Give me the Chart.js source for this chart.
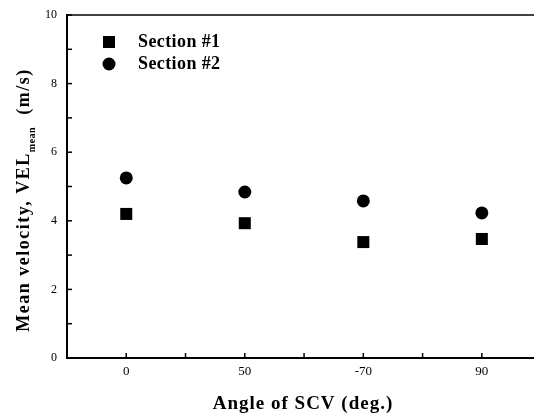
<!DOCTYPE html>
<html>
<head>
    <meta charset="utf-8" />
    <title>Mean velocity vs angle of SCV</title>
    <style>
        html, body {
            margin: 0;
            padding: 0;
            background: #fff;
        }

        #chartBox {
            width: 534px;
            height: 414px;
        }
    </style>
</head>
<body>
    <div id="chartBox">
        <canvas id="velChart" width="534" height="414"></canvas>
    </div>

    <script src="https://cdn.jsdelivr.net/npm/chart.js"></script>
    <script>
        // values
        const angles = ['0', '50', '-70', '90'];
        const section1 = [4.2, 3.93, 3.38, 3.47];
        const section2 = [5.25, 4.84, 4.58, 4.23];
        const yLabels = [0, 2, 4, 6, 8, 10];

        const serif = '"Liberation Serif", "DejaVu Serif", serif';

        function toPoints(arr) {
            return arr.map((v, i) => ({ x: i, y: v }));
        }

        // inward tick marks, top border, legend and axis titles (y one has a subscript)
        const decoration = {
            id: 'decoration',
            afterDraw(chart) {
                const ctx = chart.ctx;
                const area = chart.chartArea;
                const xs = chart.scales.x;
                const ys = chart.scales.y;
                ctx.save();
                ctx.strokeStyle = '#000';
                ctx.lineWidth = 1.5;

                ctx.beginPath();
                ctx.moveTo(area.left, area.top);
                ctx.lineTo(area.right, area.top);
                ctx.stroke();

                xs.ticks.forEach(t => {
                    const px = xs.getPixelForValue(t.value);
                    ctx.beginPath();
                    ctx.moveTo(px, area.bottom);
                    ctx.lineTo(px, area.bottom - 5);
                    ctx.stroke();
                });
                ys.ticks.forEach(t => {
                    const py = ys.getPixelForValue(t.value);
                    ctx.beginPath();
                    ctx.moveTo(area.left, py);
                    ctx.lineTo(area.left + 5, py);
                    ctx.stroke();
                });

                // legend
                ctx.fillStyle = '#000';
                ctx.textBaseline = 'middle';
                ctx.textAlign = 'left';
                ctx.font = 'bold 18px ' + serif;
                ctx.letterSpacing = '0.4px';
                ctx.fillRect(103, 36, 12, 12);
                ctx.fillText(chart.data.datasets[0].label, 138, 42);
                ctx.beginPath();
                ctx.arc(109, 64, 6.5, 0, Math.PI * 2);
                ctx.fill();
                ctx.fillText(chart.data.datasets[1].label, 138, 64);

                // x axis title
                ctx.font = 'bold 19px ' + serif;
                ctx.letterSpacing = '1px';
                ctx.textAlign = 'center';
                ctx.fillText('Angle of SCV (deg.)', 303, 404);

                // y axis title
                const main = 'Mean velocity, VEL';
                const sub = 'mean';
                const tail = '  (m/s)';
                ctx.textAlign = 'left';
                ctx.translate(24, 200);
                ctx.rotate(-Math.PI / 2);
                ctx.font = 'bold 18px ' + serif;
                ctx.letterSpacing = '1.5px';
                const w1 = ctx.measureText(main).width;
                const w3 = ctx.measureText(tail).width;
                ctx.font = 'bold 10px ' + serif;
                ctx.letterSpacing = '0.5px';
                const w2 = ctx.measureText(sub).width;
                const x0 = -(w1 + w2 + w3) / 2;
                ctx.font = 'bold 18px ' + serif;
                ctx.letterSpacing = '1.5px';
                ctx.fillText(main, x0, 0);
                ctx.fillText(tail, x0 + w1 + w2, 0);
                ctx.font = 'bold 10px ' + serif;
                ctx.letterSpacing = '0.5px';
                ctx.fillText(sub, x0 + w1, 8);
                ctx.restore();
            }
        };

        const ctx = document.getElementById('velChart').getContext('2d');
        const chart = new Chart(ctx, {
            type: 'scatter',
            data: {
                datasets: [{
                    label: 'Section #1',
                    data: toPoints(section1),
                    pointStyle: 'rect',
                    pointRadius: 8.5,
                    backgroundColor: '#000',
                    borderColor: '#000',
                    borderWidth: 0
                }, {
                    label: 'Section #2',
                    data: toPoints(section2),
                    pointStyle: 'circle',
                    pointRadius: 6.5,
                    backgroundColor: '#000',
                    borderColor: '#000',
                    borderWidth: 0
                }]
            },
            options: {
                responsive: false,
                animation: false,
                layout: {
                    autoPadding: false,
                    padding: { top: 15, right: 0, left: 0, bottom: 0 }
                },
                plugins: {
                    legend: { display: false },
                    tooltip: { enabled: false }
                },
                scales: {
                    x: {
                        type: 'linear',
                        min: -0.5,
                        max: 3.44,
                        afterFit: s => {
                            s.height = 56;
                            s.paddingLeft = 0;
                            s.paddingRight = 0;
                        },
                        afterBuildTicks: s => {
                            s.ticks = [-0.5, 0, 0.5, 1, 1.5, 2, 2.5, 3].map(v => ({ value: v }));
                        },
                        ticks: {
                            autoSkip: false,
                            maxRotation: 0,
                            padding: 6,
                            color: '#000',
                            font: { family: serif, size: 13 },
                            callback: v => Number.isInteger(v) && v >= 0 ? angles[v] : ''
                        },
                        grid: { display: true, drawOnChartArea: false, drawTicks: false },
                        border: { display: true, color: '#000', width: 2 }
                    },
                    y: {
                        min: 0,
                        max: 10,
                        afterFit: s => {
                            s.width = 67;
                            s.paddingTop = 0;
                            s.paddingBottom = 0;
                        },
                        ticks: {
                            stepSize: 1,
                            padding: 10,
                            color: '#000',
                            font: { family: serif, size: 12 },
                            callback: v => yLabels.includes(v) ? String(v) : ''
                        },
                        grid: { display: true, drawOnChartArea: false, drawTicks: false },
                        border: { display: true, color: '#000', width: 2 }
                    }
                }
            },
            plugins: [decoration]
        });
    </script>
</body>
</html>
